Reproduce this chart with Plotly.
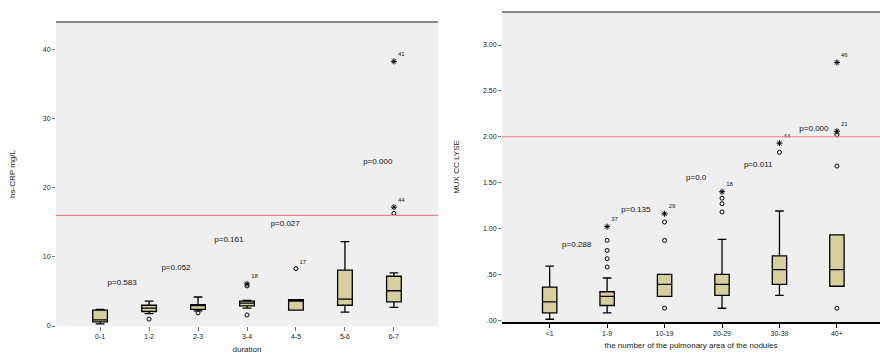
import plotly.graph_objects as go

# ---------------- data: left panel ----------------
left_cats = ["0-1", "1-2", "2-3", "3-4", "4-5", "5-6", "6-7"]
left_lower = [0.3, 1.8, 2.2, 2.6, 2.3, 2.0, 2.7]
left_q1 = [0.6, 2.1, 2.4, 2.9, 2.3, 3.0, 3.5]
left_median = [0.9, 2.6, 3.0, 3.3, 3.6, 3.9, 5.1]
left_q3 = [2.3, 3.0, 3.1, 3.6, 3.8, 8.1, 7.2]
left_upper = [2.4, 3.6, 4.2, 3.7, 3.8, 12.2, 7.7]
left_out_cat = ["1-2", "2-3", "3-4", "3-4", "4-5", "6-7"]
left_out_val = [1.0, 1.9, 1.6, 5.8, 8.3, 16.3]
left_out_lab = ["", "", "", "", "17", ""]
left_ext_cat = ["3-4", "6-7", "6-7"]
left_ext_val = [6.1, 17.2, 38.3]
left_ext_lab = ["18", "44", "41"]
left_p_cat = [0.45, 1.55, 2.63, 3.78, 5.67]
left_p_val = [6.2, 8.4, 12.5, 14.8, 23.8]
left_p_txt = ["p=0.583", "p=0.052", "p=0.161", "p=0.027", "p=0.000"]
left_ref = 16.0
left_ticks = [0, 10, 20, 30, 40]
left_ticktext = ["0", "10", "20", "30", "40"]

# ---------------- data: right panel ----------------
right_cats = ["<1", "1-9", "10-19", "20-29", "30-39", "40+"]
right_lower = [0.01, 0.08, 0.26, 0.13, 0.27, 0.37]
right_q1 = [0.08, 0.16, 0.26, 0.27, 0.39, 0.37]
right_median = [0.20, 0.26, 0.39, 0.39, 0.55, 0.55]
right_q3 = [0.36, 0.31, 0.50, 0.50, 0.70, 0.93]
right_upper = [0.59, 0.46, 0.50, 0.88, 1.19, 0.93]
right_out_cat = ["1-9", "1-9", "1-9", "1-9", "10-19", "10-19", "10-19",
                 "20-29", "20-29", "20-29", "30-39", "40+", "40+", "40+"]
right_out_val = [0.58, 0.67, 0.76, 0.87, 0.13, 0.87, 1.07,
                 1.18, 1.27, 1.33, 1.83, 0.13, 1.68, 2.02]
right_ext_cat = ["1-9", "10-19", "20-29", "30-39", "40+", "40+"]
right_ext_val = [1.02, 1.16, 1.40, 1.93, 2.06, 2.81]
right_ext_lab = ["37", "29", "18", "44", "21", "46"]
right_p_cat = [0.47, 1.5, 2.55, 3.63, 4.6]
right_p_val = [0.82, 1.20, 1.55, 1.69, 2.08]
right_p_txt = ["p=0.288", "p=0.135", "p=0.0", "p=0.011", "p=0.000"]
right_ref = 2.0
right_ticks = [0, 0.5, 1.0, 1.5, 2.0, 2.5, 3.0]
right_ticktext = [".00", ".50", "1.00", "1.50", "2.00", "2.50", "3.00"]

BOX_FILL = "#d7d09e"
FONT = dict(family="Liberation Sans, Arial, sans-serif", size=8, color="#222")

fig = go.Figure()

fig.add_trace(go.Box(
    x=left_cats, q1=left_q1, median=left_median, q3=left_q3,
    lowerfence=left_lower, upperfence=left_upper,
    fillcolor=BOX_FILL, line=dict(color="black", width=1.3),
    width=0.3, whiskerwidth=0.6, boxpoints=False, xaxis="x", yaxis="y",
    showlegend=False, hoverinfo="skip"))
fig.add_trace(go.Scatter(
    x=left_out_cat, y=left_out_val, mode="markers+text", text=left_out_lab,
    textposition="top right", textfont=dict(size=6, color="#222"),
    marker=dict(symbol="circle-open", size=4, color="black", line=dict(width=1)),
    xaxis="x", yaxis="y", showlegend=False, cliponaxis=False))
fig.add_trace(go.Scatter(
    x=left_ext_cat, y=left_ext_val, mode="markers+text", text=left_ext_lab,
    textposition="top right", textfont=dict(size=6, color="#222"),
    marker=dict(symbol="asterisk-open", size=5, color="black", line=dict(width=1)),
    xaxis="x", yaxis="y", showlegend=False, cliponaxis=False))
fig.add_trace(go.Scatter(
    x=left_p_cat, y=left_p_val, mode="text", text=left_p_txt,
    textfont=dict(size=8, color="#111"), xaxis="x3", yaxis="y",
    showlegend=False))

fig.add_trace(go.Box(
    x=right_cats, q1=right_q1, median=right_median, q3=right_q3,
    lowerfence=right_lower, upperfence=right_upper,
    fillcolor=BOX_FILL, line=dict(color="black", width=1.3),
    width=0.25, whiskerwidth=0.6, boxpoints=False, xaxis="x2", yaxis="y2",
    showlegend=False, hoverinfo="skip"))
fig.add_trace(go.Scatter(
    x=right_out_cat, y=right_out_val, mode="markers",
    marker=dict(symbol="circle-open", size=4, color="black", line=dict(width=1)),
    xaxis="x2", yaxis="y2", showlegend=False, cliponaxis=False))
fig.add_trace(go.Scatter(
    x=right_ext_cat, y=right_ext_val, mode="markers+text", text=right_ext_lab,
    textposition="top right", textfont=dict(size=6, color="#222"),
    marker=dict(symbol="asterisk-open", size=5, color="black", line=dict(width=1)),
    xaxis="x2", yaxis="y2", showlegend=False, cliponaxis=False))
fig.add_trace(go.Scatter(
    x=right_p_cat, y=right_p_val, mode="text", text=right_p_txt,
    textfont=dict(size=8, color="#111"), xaxis="x4", yaxis="y2",
    showlegend=False))

ydomL = [28 / 354, 332 / 354]
ydomR = [32 / 354, 342 / 354]
xdomL = [56 / 880, 438 / 880]
xdomR = [502 / 880, 1.0]

fig.update_layout(
    width=880, height=354, margin=dict(l=0, r=0, t=0, b=0),
    paper_bgcolor="white", plot_bgcolor="#efefef", font=FONT,
    xaxis=dict(domain=xdomL, range=[-0.9, 6.9], type="category",
               categoryorder="array", categoryarray=left_cats,
               showgrid=False, zeroline=False, ticks="outside", ticklen=4,
               tickcolor="#777", tickfont=dict(size=7), automargin=False,
               title=dict(text="duration", font=dict(size=8), standoff=6)),
    xaxis3=dict(domain=xdomL, range=[-0.9, 6.9], overlaying="x", visible=False,
                anchor="y"),
    yaxis=dict(domain=ydomL, range=[0, 44], tickvals=left_ticks,
               ticktext=left_ticktext, showgrid=False, zeroline=False,
               ticks="outside", ticklen=3, tickcolor="#777",
               tickfont=dict(size=7), automargin=False,
               title=dict(text="hs-CRP mg/L", font=dict(size=8), standoff=26)),
    xaxis2=dict(domain=xdomR, range=[-0.83, 5.75], type="category",
                categoryorder="array", categoryarray=right_cats, anchor="y2",
                showgrid=False, zeroline=False, showline=True,
                linecolor="black", linewidth=1.5, ticks="outside", ticklen=4,
                tickcolor="black", tickfont=dict(size=7), automargin=False,
                title=dict(text="the number of the pulmonary area of the nodules",
                           font=dict(size=8), standoff=6)),
    xaxis4=dict(domain=xdomR, range=[-0.83, 5.75], overlaying="x2",
                visible=False, anchor="y2"),
    yaxis2=dict(domain=ydomR, range=[-0.02, 3.36], anchor="x2",
                tickvals=right_ticks, ticktext=right_ticktext, showgrid=False,
                zeroline=False, ticks="outside", ticklen=3, tickcolor="#777",
                tickfont=dict(size=7), automargin=False,
                title=dict(text="MUX CC LYSE", font=dict(size=8), standoff=22)),
    shapes=[
        dict(type="line", xref="x domain", yref="y", x0=0, x1=1,
             y0=left_ref, y1=left_ref, layer="above",
             line=dict(color="#f07e8c", width=1.2)),
        dict(type="line", xref="x2 domain", yref="y2", x0=0, x1=1,
             y0=right_ref, y1=right_ref, layer="above",
             line=dict(color="#f07e8c", width=1.2)),
        dict(type="line", xref="x domain", yref="y domain", x0=0, x1=1,
             y0=1, y1=1, line=dict(color="#888", width=2)),
        dict(type="line", xref="x2 domain", yref="y2 domain", x0=0, x1=1,
             y0=1, y1=1, line=dict(color="#888", width=2)),
    ],
)

post = ("document.body.style.margin='0';document.body.style.overflow='hidden';"
        "var gd=document.getElementById('{plot_id}');"
        "Plotly.relayout(gd,{width:880,height:354});")
fig.write_html("out.html", post_script=post,
               config={"responsive": False, "displayModeBar": False})
